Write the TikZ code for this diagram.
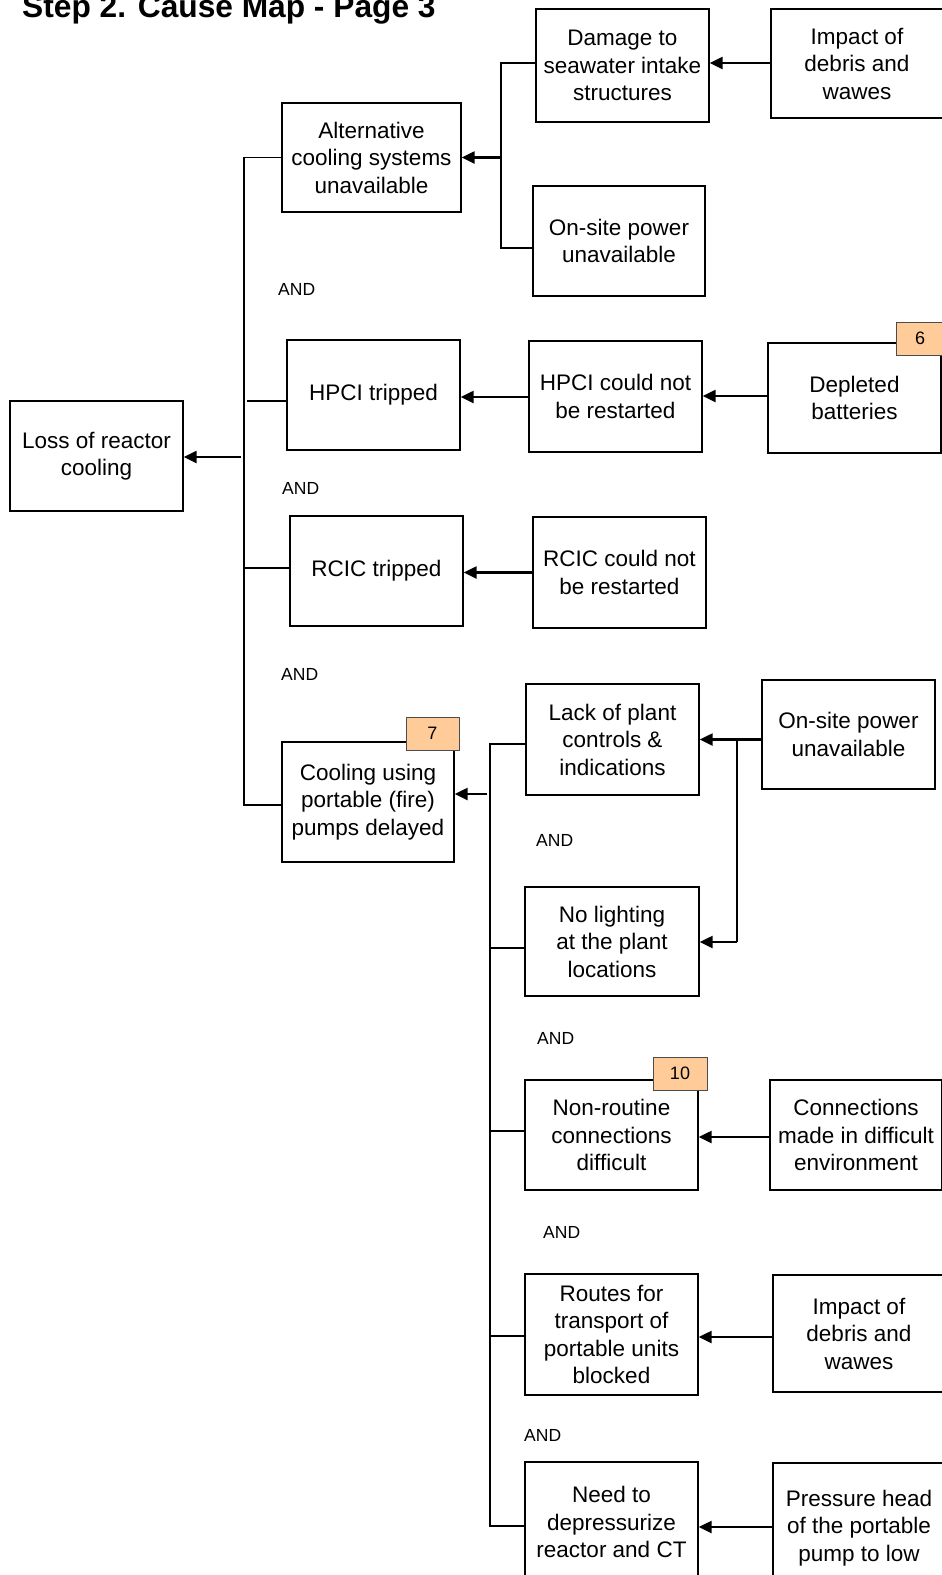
\documentclass[tikz,border=0pt]{standalone}
\usepackage{fontspec}
\setmainfont{Liberation Sans}
\usetikzlibrary{arrows.meta}
\definecolor{tagfill}{HTML}{FFCC99}
\begin{document}
\begin{tikzpicture}[x=1pt,y=-1pt,
  box/.style={draw=black, line width=1.4pt, align=center, inner sep=0pt,
    font=\fontsize{22.5}{27.5}\selectfont},
  sz/.style 2 args={minimum width=#1pt, minimum height=#2pt},
  tagbox/.style={draw=black!70, line width=1pt, fill=tagfill, inner sep=0pt,
    minimum height=33pt, font=\fontsize{18}{20}\selectfont},
  andlbl/.style={anchor=west, inner sep=0pt, font=\fontsize{17.5}{20}\selectfont},
  link/.style={line width=1.4pt},
  arr/.style={line width=2.4pt, -{Triangle[length=13pt,width=12pt]}},
]
\useasboundingbox (0,0) rectangle (942,1575);
\clip (0,0) rectangle (942,1575);

% title
\node[anchor=base west, inner sep=0pt, font=\fontsize{31.7}{34}\selectfont\bfseries]
  (title) at (22,17) {Step 2. Cause Map - Page 3};

% effect
\node[box, sz={173}{110}] (loss) at (96.5,456) {Loss of reactor\\cooling};

% first level causes
\node[box, sz={179}{109}] (alt)  at (371.5,157.5) {Alternative\\cooling systems\\unavailable};
\node[box, sz={173}{110}] (hpci) at (373.5,395) {HPCI tripped};
\node[box, sz={173}{110}] (rcic) at (376.5,571) {RCIC tripped};
\node[box, sz={172}{120}] (cool) at (368,802) {Cooling using\\portable (fire)\\pumps delayed};

% second level causes
\node[box, sz={173}{113}] (dmg)   at (622.5,65.5) {Damage to\\seawater intake\\structures};
\node[box, sz={172}{110}] (osp1)  at (619,241) {On-site power\\unavailable};
\node[box, sz={173}{111}] (hpcin) at (615.5,396.5) {HPCI could not\\be restarted};
\node[box, sz={173}{111}] (rcicn) at (619.5,572.5) {RCIC could not\\be restarted};
\node[box, sz={173}{111}] (lack)  at (612.5,739.5) {Lack of plant\\controls \&\\indications};
\node[box, sz={174}{109}] (nolight) at (612,941.5) {No lighting\\at the plant\\locations};
\node[box, sz={173}{110}] (nonr)  at (611.5,1135) {Non-routine\\connections\\difficult};
\node[box, sz={173}{121}] (routes) at (611.5,1334.5) {Routes for\\transport of\\portable units\\blocked};
\node[box, sz={173}{120}] (need)  at (611.5,1522) {Need to\\depressurize\\reactor and CT};

% third level causes
\node[box, sz={172}{109}] (imp1)  at (857,63.5) {Impact of\\debris and\\wawes};
\node[box, sz={173}{110}] (depl)  at (854.5,398) {Depleted\\batteries};
\node[box, sz={173}{109}] (osp2)  at (848.5,734.5) {On-site power\\unavailable};
\node[box, sz={172}{110}] (conn)  at (856,1135) {Connections\\made in difficult\\environment};
\node[box, sz={172}{117}] (imp2)  at (859,1333.5) {Impact of\\debris and\\wawes};
\node[box, sz={172}{130}] (press) at (859,1528) {Pressure head\\of the portable\\pump to low};

% reference tags
\node[tagbox, minimum width=48pt] (tag6)  at (920,338.5) {6};
\node[tagbox, minimum width=53pt] (tag7)  at (432.5,733.5) {7};
\node[tagbox, minimum width=54pt] (tag10) at (680,1073.5) {10};

% AND labels
\node[andlbl] (and1) at (278,289) {AND};
\node[andlbl] (and2) at (282,488) {AND};
\node[andlbl] (and3) at (281,674) {AND};
\node[andlbl] (and4) at (536,840) {AND};
\node[andlbl] (and5) at (537,1038) {AND};
\node[andlbl] (and6) at (543,1232) {AND};
\node[andlbl] (and7) at (524,1435) {AND};

% trunk lines
\coordinate (ta) at (244,0);
\coordinate (tb) at (501,0);
\coordinate (tc) at (490,0);
\coordinate (td) at (737,0);

% main trunk into the effect
\draw[link] (alt.west) -- (alt.west -| ta) -- ([yshift=-3pt]cool.west -| ta) -- ([yshift=-3pt]cool.west);
\draw[link] ([yshift=-6pt]hpci.west) -- ([xshift=3pt,yshift=-6pt]hpci.west -| ta);
\draw[link] ([yshift=3pt]rcic.west) -- ([yshift=3pt]rcic.west -| ta);
\draw[arr] ([xshift=-3pt,yshift=-1pt]loss.east -| ta) -- ([yshift=-1pt]loss.east);

% alternative cooling branch
\draw[link] ([yshift=2.5pt]dmg.west) -- ([yshift=2.5pt]dmg.west -| tb) -- ([yshift=-7pt]osp1.west -| tb) -- ([yshift=-7pt]osp1.west);
\draw[arr] (alt.east -| tb) -- (alt.east);
\draw[arr] ([yshift=0.5pt]imp1.west) -- ([yshift=0.5pt]imp1.west -| dmg.east);

% HPCI and RCIC chains
\draw[arr] ([yshift=-0.5pt]hpcin.west) -- ([yshift=-0.5pt]hpcin.west -| hpci.east);
\draw[arr] ([yshift=2pt]depl.west) -- ([yshift=2pt]depl.west -| hpcin.east);
\draw[arr] (rcicn.west) -- (rcicn.west -| rcic.east);

% portable pump branch
\draw[link] ([yshift=-4.5pt]lack.west) -- ([yshift=-4.5pt]lack.west -| tc) -- ([yshift=-4pt]need.west -| tc) -- ([yshift=-4pt]need.west);
\draw[link] ([yshift=-6.5pt]nolight.west) -- ([yshift=-6.5pt]nolight.west -| tc);
\draw[link] ([yshift=4pt]nonr.west) -- ([yshift=4pt]nonr.west -| tc);
\draw[link] ([yshift=-1.5pt]routes.west) -- ([yshift=-1.5pt]routes.west -| tc);
\draw[arr] ([xshift=-3pt,yshift=8pt]cool.east -| tc) -- ([yshift=8pt]cool.east);

% on-site power feeds two causes
\draw[arr] (lack.east -| osp2.west) -- (lack.east);
\draw[link] (lack.east -| td) -- ([yshift=-0.5pt]nolight.east -| td);
\draw[arr] ([yshift=-0.5pt]nolight.east -| td) -- ([yshift=-0.5pt]nolight.east);

% remaining chains
\draw[arr] ([yshift=-2pt]conn.west) -- ([yshift=-2pt]conn.west -| nonr.east);
\draw[arr] ([yshift=-3.5pt]imp2.west) -- ([yshift=-3.5pt]imp2.west -| routes.east);
\draw[arr] ([yshift=-5pt]need.east -| press.west) -- ([yshift=-5pt]need.east);
\end{tikzpicture}
\end{document}
